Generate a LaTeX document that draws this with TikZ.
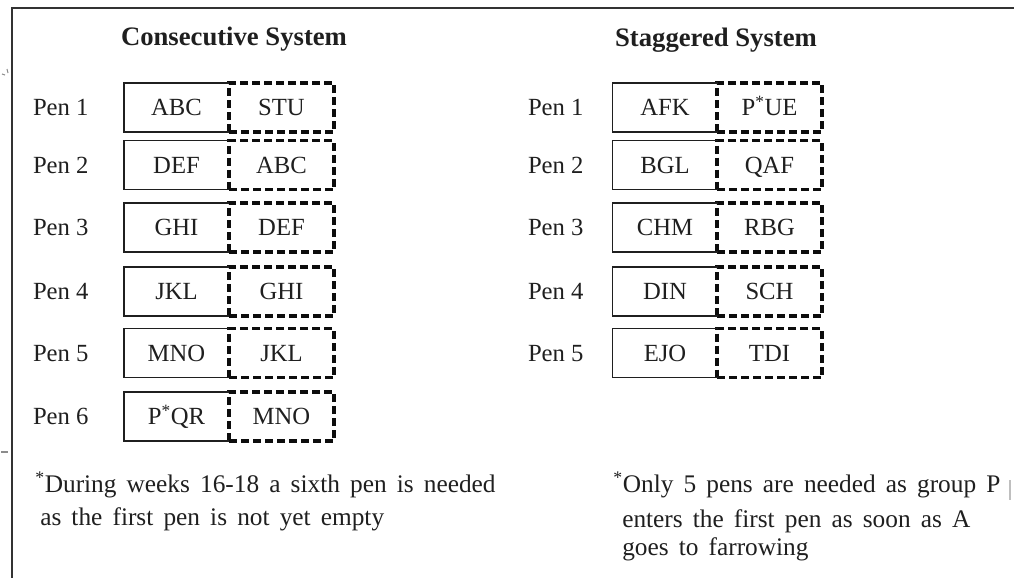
\documentclass[tikz,border=0pt]{standalone}
\usepackage{fontspec}
\setmainfont{Liberation Serif}
\newcommand\fnwidespace{\spaceskip=0.4em\relax}
\begin{document}
\begin{tikzpicture}[x=0.75pt,y=-0.75pt,
  txt/.style={text=black!88, font=\fontsize{18.5}{22}\selectfont, inner sep=0pt, outer sep=0pt, text height=12.2pt, text depth=0pt},
  fn/.style={text=black!88, font=\fontsize{19}{23}\selectfont\fnwidespace, inner sep=0pt, anchor=base west},
  ttl/.style={text=black!88, font=\fontsize{20}{24}\selectfont\bfseries, inner sep=0pt, anchor=base},
  occ/.style={txt, minimum width=78.75pt, minimum height=36.75pt},
  nxt/.style={occ, draw=black!95, line width=2.3pt, dash pattern=on 6pt off 3pt},
  solidln/.style={draw=black!88, line width=1.3pt},
  frame/.style={draw=black!80, line width=2pt},
  speck/.style={draw=black!45, line width=0.8pt}]
\useasboundingbox (0,0) rectangle (1014,578);
% frame
\draw[frame] (12,578) -- (12,8) -- (1014,8);
\draw[speck] (1,452) -- (8,452);
\draw[speck] (2,74) -- (5,75);
\draw[speck] (7,69) -- (8,73);
\draw[speck, draw=black!25] (1010,480) -- (1010,500);
% titles
\node[ttl] (tc) at (234,45) {Consecutive System};
\node[ttl] (ts) at (716,46) {Staggered System};
% consecutive system
\foreach \i/\y/\a/\b in {1/107.5/ABC/STU, 2/165/DEF/ABC, 3/227.5/GHI/DEF, 4/291.5/JKL/GHI, 5/353/MNO/JKL, 6/416.5/P\textsuperscript{*}QR/MNO}{
  \node[occ] (ca\i) at (176.5,\y) {\a};
  \node[nxt] (cb\i) at (281.5,\y) {\b};
  \draw[solidln] (ca\i.north east) -- (ca\i.north west) -- (ca\i.south west) -- (ca\i.south east);
  \node[txt, anchor=west] (cp\i) at (33,\y) {Pen \i};
}
% staggered system
\foreach \i/\y/\a/\b in {1/107.5/AFK/P\textsuperscript{*}UE, 2/165/BGL/QAF, 3/227.5/CHM/RBG, 4/291.5/DIN/SCH, 5/353/EJO/TDI}{
  \node[occ] (sa\i) at (665,\y) {\a};
  \node[nxt] (sb\i) at (769.5,\y) {\b};
  \draw[solidln] (sa\i.north east) -- (sa\i.north west) -- (sa\i.south west) -- (sa\i.south east);
  \node[txt, anchor=west] (sp\i) at (528,\y) {Pen \i};
}
% footnotes
\node[fn] (fl1) at (35,492) {\textsuperscript{*}During weeks 16-18 a sixth pen is needed};
\node[fn] (fl2) at (40,525) {as the first pen is not yet empty};
\node[fn] (fr1) at (613,492) {\textsuperscript{*}Only 5 pens are needed as group P};
\node[fn] (fr2) at (622,527) {enters the first pen as soon as A};
\node[fn] (fr3) at (622,555) {goes to farrowing};
\end{tikzpicture}
\end{document}
